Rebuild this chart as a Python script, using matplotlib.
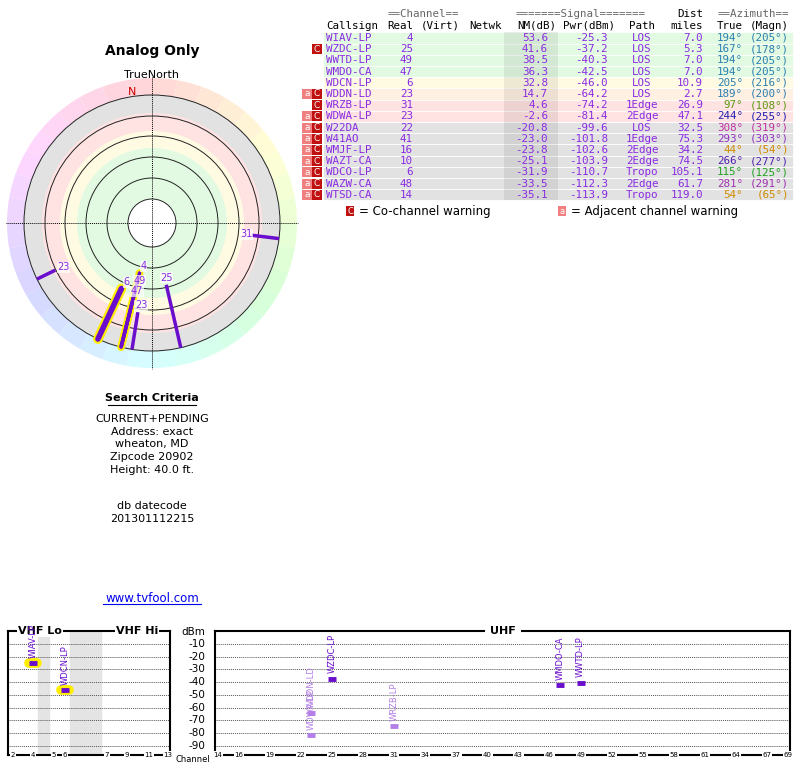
import numpy as np
import matplotlib
matplotlib.use("Agg")
import matplotlib.pyplot as plt
from matplotlib.patches import Circle, Wedge, Rectangle
import colorsys

# ---- station table ----
callsign = ["WIAV-LP", "WZDC-LP", "WWTD-LP", "WMDO-CA", "WDCN-LP", "WDDN-LD", "WRZB-LP", "WDWA-LP",
            "W22DA", "W41AO", "WMJF-LP", "WAZT-CA", "WDCO-LP", "WAZW-CA", "WTSD-CA"]
channel = [4, 25, 49, 47, 6, 23, 31, 23, 22, 41, 16, 10, 6, 48, 14]
nm_db = [53.6, 41.6, 38.5, 36.3, 32.8, 14.7, 4.6, -2.6, -20.8, -23.0, -23.8, -25.1, -31.9, -33.5, -35.1]
pwr_dbm = [-25.3, -37.2, -40.3, -42.5, -46.0, -64.2, -74.2, -81.4, -99.6, -101.8, -102.6, -103.9, -110.7, -112.3, -113.9]
path = ["LOS", "LOS", "LOS", "LOS", "LOS", "LOS", "1Edge", "2Edge", "LOS", "1Edge", "2Edge", "2Edge", "Tropo", "2Edge", "Tropo"]
dist = [7.0, 5.3, 7.0, 7.0, 10.9, 2.7, 26.9, 47.1, 32.5, 75.3, 34.2, 74.5, 105.1, 61.7, 119.0]
az_true = [194, 167, 194, 194, 205, 189, 97, 244, 308, 293, 44, 266, 115, 281, 54]
az_magn = [205, 178, 205, 205, 216, 200, 108, 255, 319, 303, 54, 277, 125, 291, 65]
warn = ["", "C", "", "", "", "aC", "C", "aC", "aC", "aC", "aC", "aC", "aC", "aC", "aC"]
az_color = ["#2a7fb0", "#2a7fb0", "#2a7fb0", "#2a7fb0", "#2a7fb0", "#2a7fb0", "#5a9a10", "#2020b0",
            "#c030a0", "#9030c0", "#d08a00", "#5020b0", "#20a020", "#a030b0", "#d08a00"]
row_bg = ["#e2fae2"] * 4 + ["#fffbe2", "#fff0e2", "#ffe2e2", "#ffe2e2"] + ["#e2e2e2"] * 7

criteria = ["CURRENT+PENDING", "Address: exact", "wheaton, MD", "Zipcode 20902", "Height: 40.0 ft."]

PURPLE = "#8a2be2"
MONO = "DejaVu Sans Mono"

fig = plt.figure(figsize=(8, 7.68), dpi=100)
ax = fig.add_axes([0, 0, 1, 1])
ax.set_xlim(0, 800)
ax.set_ylim(768, 0)
ax.axis("off")

# ---- polar plot ----
cx, cy = 152, 223
for k in range(36):
    a0 = k * 10
    r, g, b = colorsys.hsv_to_rgb(((a0 + 5) % 360) / 360, 0.16, 1.0)
    ax.add_patch(Wedge((cx, cy), 145, a0 - 90, a0 - 80, width=17, facecolor=(r, g, b), edgecolor="none"))
for rad, col in [(128, "#e2e2e2"), (110, "#ffe2e2"), (92, "#fffbe2"), (75, "#e2fae2")]:
    ax.add_patch(Circle((cx, cy), rad, facecolor=col, edgecolor="none"))
for rad in [45, 66, 87, 107, 128]:
    ax.add_patch(Circle((cx, cy), rad, facecolor="none", edgecolor="#222222", lw=0.7))
ax.add_patch(Circle((cx, cy), 24, facecolor="white", edgecolor="#222222", lw=0.7))
ax.plot([cx - 146, cx + 146], [cy, cy], color="black", lw=0.7, ls=(0, (1, 1)))
ax.plot([cx, cx], [cy - 146, cy + 146], color="black", lw=0.7, ls=(0, (1, 1)))
ax.text(cx - 20, cy - 131, "N", color="#cc0000", fontsize=8, ha="center", va="center")
ax.text(cx, cy - 148, "TrueNorth", fontsize=8, ha="center", va="center")
ax.text(cx, 51, "Analog Only", fontsize=10, fontweight="bold", ha="center", va="center")

placed = []
for i in range(8):
    a = np.radians(az_true[i])
    r0 = 105 - nm_db[i]
    xs = cx + np.array([r0, 128]) * np.sin(a)
    ys = cy - np.array([r0, 128]) * np.cos(a)
    lw = 4 if channel[i] == 6 else 2.5
    if channel[i] in (4, 6):
        ax.plot(xs, ys, color="#ffee00", lw=lw + 3, solid_capstyle="round", zorder=3)
    ax.plot(xs, ys, color="#6a0dcc", lw=lw, solid_capstyle="round" if channel[i] < 7 else "butt", zorder=4)
    rl = r0 - 7
    for (paz, prl) in placed:
        if paz == az_true[i] and abs(prl - rl) < 9:
            rl = prl + 11
    placed.append((az_true[i], rl))
    ax.text(cx + rl * np.sin(a) + 2, cy - rl * np.cos(a), str(channel[i]), color=PURPLE,
            fontsize=7, ha="center", va="center", zorder=5,
            bbox=dict(boxstyle="square,pad=0.05", facecolor="white", edgecolor="none", alpha=0.7))

# ---- search criteria ----
ax.text(cx, 398, "Search Criteria", fontsize=8, fontweight="bold", ha="center", va="center")
ax.plot([108, 196], [405, 405], color="black", lw=0.8)
for j, line in enumerate(criteria):
    ax.text(cx, 419 + j * 12.7, line, fontsize=8, ha="center", va="center")
ax.text(cx, 506, "db datecode", fontsize=8, ha="center", va="center")
ax.text(cx, 519, "201301112215", fontsize=8, ha="center", va="center")
ax.text(cx, 598, "www.tvfool.com", fontsize=8.5, ha="center", va="center", color="#0000ee")
ax.plot([103, 201], [604, 604], color="#0000ee", lw=0.8)

# ---- table ----
fs = 7.8
y0, dy = 38, 11.2
ax.text(423, 14, "==Channel==", family=MONO, fontsize=fs, ha="center", va="center", color="#666666")
ax.text(581, 14, "=======Signal=======", family=MONO, fontsize=fs, ha="center", va="center", color="#666666")
ax.text(703, 14, "Dist", family=MONO, fontsize=fs, ha="right", va="center")
ax.text(789, 14, "==Azimuth==", family=MONO, fontsize=fs, ha="right", va="center", color="#666666")
for txt, xpos, ha in [("Callsign", 326, "left"), ("Real", 413, "right"), ("(Virt)", 460, "right"),
                      ("Netwk", 502, "right"), ("NM(dB)", 556, "right"), ("Pwr(dBm)", 615, "right"),
                      ("Path", 642, "center"), ("miles", 703, "right"), ("True", 743, "right"),
                      ("(Magn)", 789, "right")]:
    ax.text(xpos, 26, txt, family=MONO, fontsize=fs, ha=ha, va="center")
for i in range(len(callsign)):
    y = y0 + i * dy
    ax.add_patch(Rectangle((323, y - dy / 2), 470, dy, facecolor=row_bg[i], edgecolor="white", lw=0.6))
    ax.add_patch(Rectangle((504, y - dy / 2), 54, dy, facecolor="black", alpha=0.07, edgecolor="none"))
    if "a" in warn[i]:
        ax.add_patch(Rectangle((302, y - dy / 2 + 0.5), 10, dy - 1, facecolor="#f08080", edgecolor="none"))
        ax.text(307, y, "a", fontsize=6.5, color="white", ha="center", va="center")
    if "C" in warn[i]:
        ax.add_patch(Rectangle((312, y - dy / 2 + 0.5), 10, dy - 1, facecolor="#c01010", edgecolor="none"))
        ax.text(317, y, "C", fontsize=6.5, color="white", ha="center", va="center")
    ax.text(326, y, callsign[i], family=MONO, fontsize=fs, color=PURPLE, va="center")
    ax.text(413, y, str(channel[i]), family=MONO, fontsize=fs, color=PURPLE, ha="right", va="center")
    ax.text(548, y, f"{nm_db[i]:.1f}", family=MONO, fontsize=fs, color=PURPLE, ha="right", va="center")
    ax.text(608, y, f"{pwr_dbm[i]:.1f}", family=MONO, fontsize=fs, color=PURPLE, ha="right", va="center")
    ax.text(642, y, path[i], family=MONO, fontsize=fs, color=PURPLE, ha="center", va="center")
    ax.text(703, y, f"{dist[i]:.1f}", family=MONO, fontsize=fs, color=PURPLE, ha="right", va="center")
    ax.text(743, y, f"{az_true[i]}°", family=MONO, fontsize=fs, color=az_color[i], ha="right", va="center")
    ax.text(789, y, f"({az_magn[i]}°)", family=MONO, fontsize=fs, color=az_color[i], ha="right", va="center")
ly = 211
ax.add_patch(Rectangle((346, ly - 5), 8, 10, facecolor="#c01010", edgecolor="none"))
ax.text(350, ly, "C", fontsize=6, color="white", ha="center", va="center")
ax.text(359, ly, "= Co-channel warning", fontsize=8.5, va="center")
ax.add_patch(Rectangle((558, ly - 5), 8, 10, facecolor="#f08080", edgecolor="none"))
ax.text(562, ly, "a", fontsize=6, color="white", ha="center", va="center")
ax.text(571, ly, "= Adjacent channel warning", fontsize=8.5, va="center")

# ---- spectrum chart ----
vhf_ch = [2, 4, 5, 6, 7, 9, 11, 13]
vhf_px = [13, 33, 54, 65, 107, 127, 149, 168]
uhf_ticks = [14] + list(range(16, 68, 3)) + [69]
dbm_ticks = [-10, -20, -30, -40, -50, -60, -70, -80, -90]


def fr(x0, y0_, x1, y1_):
    return [x0 / 800, (768 - y1_) / 768, (x1 - x0) / 800, (y1_ - y0_) / 768]


axv = fig.add_axes(fr(8, 631, 170, 755))
axu = fig.add_axes(fr(215, 631, 790, 755))
axv.set_xlim(8, 170)
axu.set_xlim(13.71, 69.2)
for a_ in (axv, axu):
    a_.set_ylim(-97, 0)
    a_.set_xticks([])
    a_.set_yticks([])
    for s in a_.spines.values():
        s.set_linewidth(1.5)
    for d in dbm_ticks:
        a_.axhline(d, color="#555555", lw=0.7, ls=(0, (1, 1)))
axv.axvspan(38, 49, color="#e4e4e4", zorder=0)
axv.axvspan(70, 101, color="#e4e4e4", zorder=0)
axv.text(40, 0, "VHF Lo", fontsize=8, fontweight="bold", ha="center", va="center",
         bbox=dict(facecolor="white", edgecolor="none", pad=1), clip_on=False)
axv.text(137, 0, "VHF Hi", fontsize=8, fontweight="bold", ha="center", va="center",
         bbox=dict(facecolor="white", edgecolor="none", pad=1), clip_on=False)
axu.text(41.5, 0, "UHF", fontsize=8, fontweight="bold", ha="center", va="center",
         bbox=dict(facecolor="white", edgecolor="none", pad=4), clip_on=False)
for c, p in zip(vhf_ch, vhf_px):
    axv.text(p, -97, str(c), fontsize=5, ha="center", va="center", clip_on=False,
             bbox=dict(facecolor="white", edgecolor="none", pad=0.5))
for c in uhf_ticks:
    axu.text(c, -97, str(c), fontsize=5, ha="center", va="center", clip_on=False,
             bbox=dict(facecolor="white", edgecolor="none", pad=0.5))
ax.text(193, 760, "Channel", fontsize=6, ha="center", va="center")
ax.text(193, 632, "dBm", fontsize=7.5, ha="center", va="center")
for d in dbm_ticks:
    ax.text(205, 631 + (-d) * 124 / 97, str(d), fontsize=7.5, ha="right", va="center")

for i in range(8):
    strong = nm_db[i] > 30
    col = "#6a0dcc" if strong else "#b37ee6"
    if channel[i] < 14:
        a_ = axv
        xp = np.interp(channel[i], vhf_ch, vhf_px)
        w = 4
    else:
        a_ = axu
        xp = channel[i]
        w = 0.4
    if channel[i] in (4, 6):
        a_.plot([xp - w, xp + w], [pwr_dbm[i]] * 2, color="#ffee00", lw=7, solid_capstyle="round", zorder=3)
    a_.plot([xp - w, xp + w], [pwr_dbm[i]] * 2, color=col, lw=3.5, solid_capstyle="butt", zorder=4)
    a_.text(xp, pwr_dbm[i] + 4, callsign[i], rotation=90, fontsize=6, color=col,
            ha="center", va="bottom", zorder=5, clip_on=False)

fig.savefig("out.png", dpi=100)
